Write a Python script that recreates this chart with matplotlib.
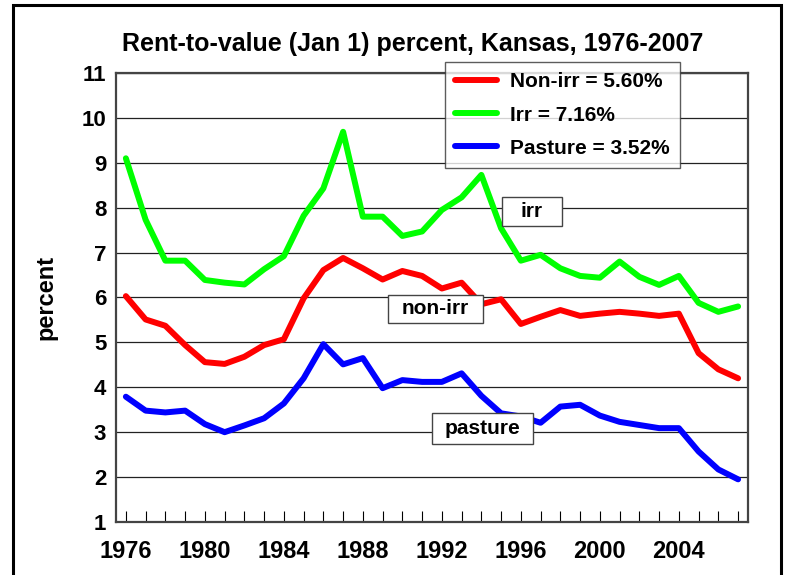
import numpy as np
import matplotlib.pyplot as plt
from matplotlib.patches import Rectangle

plt.rcParams['font.family'] = ['Liberation Sans', 'DejaVu Sans']
plt.rcParams['font.weight'] = 'bold'

# Rent-to-value percent
years = list(range(1976, 2008))
non_irr = [6.03, 5.51, 5.37, 4.94, 4.56, 4.52, 4.68, 4.94, 5.07, 5.98,
           6.61, 6.88, 6.65, 6.40, 6.59, 6.48, 6.20, 6.33, 5.85, 5.96,
           5.41, 5.57, 5.72, 5.59, 5.64, 5.68, 5.64, 5.59, 5.64, 4.76,
           4.40, 4.20]
irr = [9.10, 7.73, 6.82, 6.82, 6.39, 6.33, 6.29, 6.63, 6.92, 7.82,
       8.43, 9.69, 7.80, 7.80, 7.37, 7.47, 7.95, 8.23, 8.73, 7.54,
       6.82, 6.95, 6.65, 6.48, 6.44, 6.80, 6.46, 6.28, 6.48, 5.88,
       5.68, 5.80]
pasture = [3.79, 3.48, 3.44, 3.48, 3.18, 3.00, 3.15, 3.31, 3.64, 4.20,
           4.96, 4.51, 4.65, 3.98, 4.16, 4.12, 4.12, 4.31, 3.81, 3.42,
           3.35, 3.21, 3.57, 3.61, 3.37, 3.23, 3.16, 3.09, 3.09, 2.57,
           2.17, 1.95]
legend_labels = ['Non-irr = 5.60%', 'Irr = 7.16%', 'Pasture = 3.52%']
series_labels = ['irr', 'non-irr', 'pasture']

fig = plt.figure(figsize=(7.88, 5.75), dpi=100)
ax = fig.add_axes([0.1472, 0.0922, 0.802, 0.7809])

# outer frame
fig.patches.append(Rectangle((0.0165, -0.1), 0.975, 1.091, transform=fig.transFigure,
                             fill=False, edgecolor='black', linewidth=2.2))

ax.plot(years, non_irr, color='#ff0000', lw=4.3, label=legend_labels[0], solid_capstyle='round')
ax.plot(years, irr, color='#00ff00', lw=4.3, label=legend_labels[1], solid_capstyle='round')
ax.plot(years, pasture, color='#0000ff', lw=4.3, label=legend_labels[2], solid_capstyle='round')

ax.set_xlim(1975.5, 2007.5)
ax.set_ylim(1, 11)
ax.set_yticks(range(1, 12))
ax.set_xticks(range(1976, 2005, 4))
ax.set_xticks(years, minor=True)
ax.grid(axis='y', color='#222222', lw=0.9)
ax.set_axisbelow(True)
ax.tick_params(axis='y', length=0, labelsize=16, pad=7)
ax.tick_params(axis='x', which='both', direction='in', length=8, width=0.8,
               labelsize=17, pad=13)
for s in ax.spines.values():
    s.set_color('#444444')
    s.set_linewidth(1.6)

ax.set_title('Rent-to-value (Jan 1) percent, Kansas, 1976-2007', fontsize=18,
             fontweight='bold', pad=16, x=0.47)
ax.set_ylabel('percent', fontsize=17, fontweight='bold', labelpad=17)

leg = ax.legend(loc='upper left', bbox_to_anchor=(0.5206, 1.0245), borderaxespad=0,
                fontsize=15, frameon=True, fancybox=False, edgecolor='#333333',
                handlelength=2.0, handletextpad=0.6, borderpad=0.5,
                labelspacing=0.68)
leg.get_frame().set_linewidth(1.0)

# label boxes (x0, x1, y0, y1 in data units) and text centres
label_boxes = [(1995.04, 1998.08, 7.59, 8.24),
               (1989.27, 1994.08, 5.43, 6.06),
               (1991.50, 1996.61, 2.74, 3.43)]
for name, (x0, x1, y0, y1) in zip(series_labels, label_boxes):
    ax.add_patch(Rectangle((x0, y0), x1 - x0, y1 - y0, facecolor='white',
                           edgecolor='#444444', lw=1.0, zorder=5))
    ax.text((x0 + x1) / 2, (y0 + y1) / 2, name, fontsize=15, ha='center',
            va='center', zorder=6)

fig.savefig('out.png', dpi=100)
